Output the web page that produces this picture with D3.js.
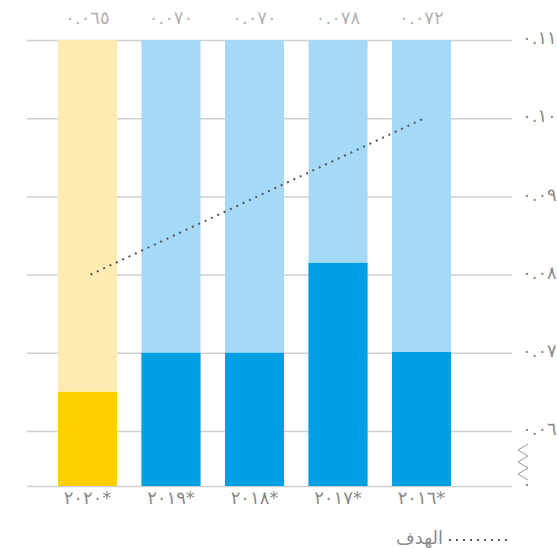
<!DOCTYPE html>
<html lang="ar">
<head>
<meta charset="utf-8">
<script src="https://cdn.jsdelivr.net/npm/d3@7"></script>
<style>
  html, body { margin: 0; padding: 0; background: #fff; }
  svg { display: block; font-family: "DejaVu Sans", sans-serif; }
</style>
</head>
<body>
<div id="chart"></div>
<script>
// years, left to right as in the reference (RTL order)
const years = ['2020', '2019', '2018', '2017', '2016'];
const yearLabels = ['٢٠٢٠*', '٢٠١٩*', '٢٠١٨*', '٢٠١٧*', '٢٠١٦*'];

// bar heights as drawn, and the value labels printed on top
const values = [0.065, 0.070, 0.070, 0.0815, 0.0701];
const valueLabels = ['٠.٠٦٥', '٠.٠٧٠', '٠.٠٧٠', '٠.٠٧٨', '٠.٠٧٢'];

// target line (الهدف)
const target = [0.080, 0.085, 0.090, 0.095, 0.100];

// y axis ticks (axis is broken between 0 and 0.06)
const yTicks = [0, 0.06, 0.07, 0.08, 0.09, 0.10, 0.11];
const yTickLabels = ['٠', '٠.٠٦', '٠.٠٧', '٠.٠٨', '٠.٠٩', '٠.١٠', '٠.١١'];

const highlightYear = '2020';

const width = 557, height = 548;
const svg = d3.select('#chart').append('svg')
    .attr('width', width)
    .attr('height', height);

const x = d3.scaleBand()
    .domain(years)
    .range([45.75, 463.25])
    .paddingInner(0.293)
    .paddingOuter(0.1465);

const y = d3.scaleLinear()
    .domain([0, 0.06, 0.11])
    .range([486, 431, 40]);

// grid + right axis labels
const yAxis = d3.axisRight(y)
    .tickValues(yTicks)
    .tickSize(-(512 - 27))
    .tickPadding(10)
    .tickFormat((d, i) => yTickLabels[i]);

const axisG = svg.append('g')
    .attr('transform', 'translate(512,0)')
    .call(yAxis);
axisG.select('.domain').remove();
axisG.selectAll('line')
    .attr('stroke', '#cfcfcf')
    .attr('stroke-width', 1.5);
axisG.selectAll('text')
    .attr('fill', '#8a8a8a')
    .attr('font-size', '18px')
    .attr('dy', '0.2em')
    .attr('font-family', '"DejaVu Sans", sans-serif');

// axis break zigzag
const zig = [];
for (let i = 0; i <= 6; i++) {
    zig.push([i % 2 === 0 ? 528 : 518, 444 + i * 6]);
}
svg.append('path')
    .attr('d', d3.line()(zig))
    .attr('fill', 'none')
    .attr('stroke', '#9a9a9a')
    .attr('stroke-width', 1);

// background bars up to the top of the scale
svg.append('g')
    .selectAll('rect')
    .data(years)
    .enter()
    .append('rect')
    .attr('x', d => x(d))
    .attr('width', x.bandwidth())
    .attr('y', y(0.11))
    .attr('height', y(0) - y(0.11))
    .attr('fill', d => d === highlightYear ? '#feebb1' : '#a4daf7');

// value bars
svg.append('g')
    .selectAll('rect')
    .data(years)
    .enter()
    .append('rect')
    .attr('x', d => x(d))
    .attr('width', x.bandwidth())
    .attr('y', (d, i) => y(values[i]))
    .attr('height', (d, i) => y(0) - y(values[i]))
    .attr('fill', d => d === highlightYear ? '#ffd000' : '#009fe3');

// value labels on top
svg.append('g')
    .selectAll('text')
    .data(years)
    .enter()
    .append('text')
    .attr('x', d => x(d) + x.bandwidth() / 2)
    .attr('y', 20)
    .attr('dy', '0.2em')
    .attr('text-anchor', 'middle')
    .attr('font-size', '18px')
    .attr('fill', '#b3b3b3')
    .text((d, i) => valueLabels[i]);

// year labels
svg.append('g')
    .selectAll('text')
    .data(years)
    .enter()
    .append('text')
    .attr('x', d => x(d) + x.bandwidth() / 2)
    .attr('y', 500)
    .attr('dy', '0.2em')
    .attr('text-anchor', 'middle')
    .attr('font-size', '18px')
    .attr('fill', '#8a8a8a')
    .text((d, i) => yearLabels[i]);

// target line
const targetLine = d3.line()
    .x((d, i) => x(years[i]) + x.bandwidth() / 2 + 3)
    .y(d => y(d));

svg.append('path')
    .datum(target)
    .attr('d', targetLine)
    .attr('fill', 'none')
    .attr('stroke', '#555')
    .attr('stroke-width', 2)
    .attr('stroke-dasharray', '2,5');

// legend
const legend = svg.append('g');
legend.append('line')
    .attr('x1', 449).attr('x2', 507)
    .attr('y1', 540).attr('y2', 540)
    .attr('stroke', '#555')
    .attr('stroke-width', 2)
    .attr('stroke-dasharray', '2,5');
legend.append('text')
    .attr('x', 443)
    .attr('y', 544)
    .attr('text-anchor', 'end')
    .attr('font-size', '18px')
    .attr('fill', '#8a8a8a')
    .text('الهدف');
</script>
</body>
</html>
